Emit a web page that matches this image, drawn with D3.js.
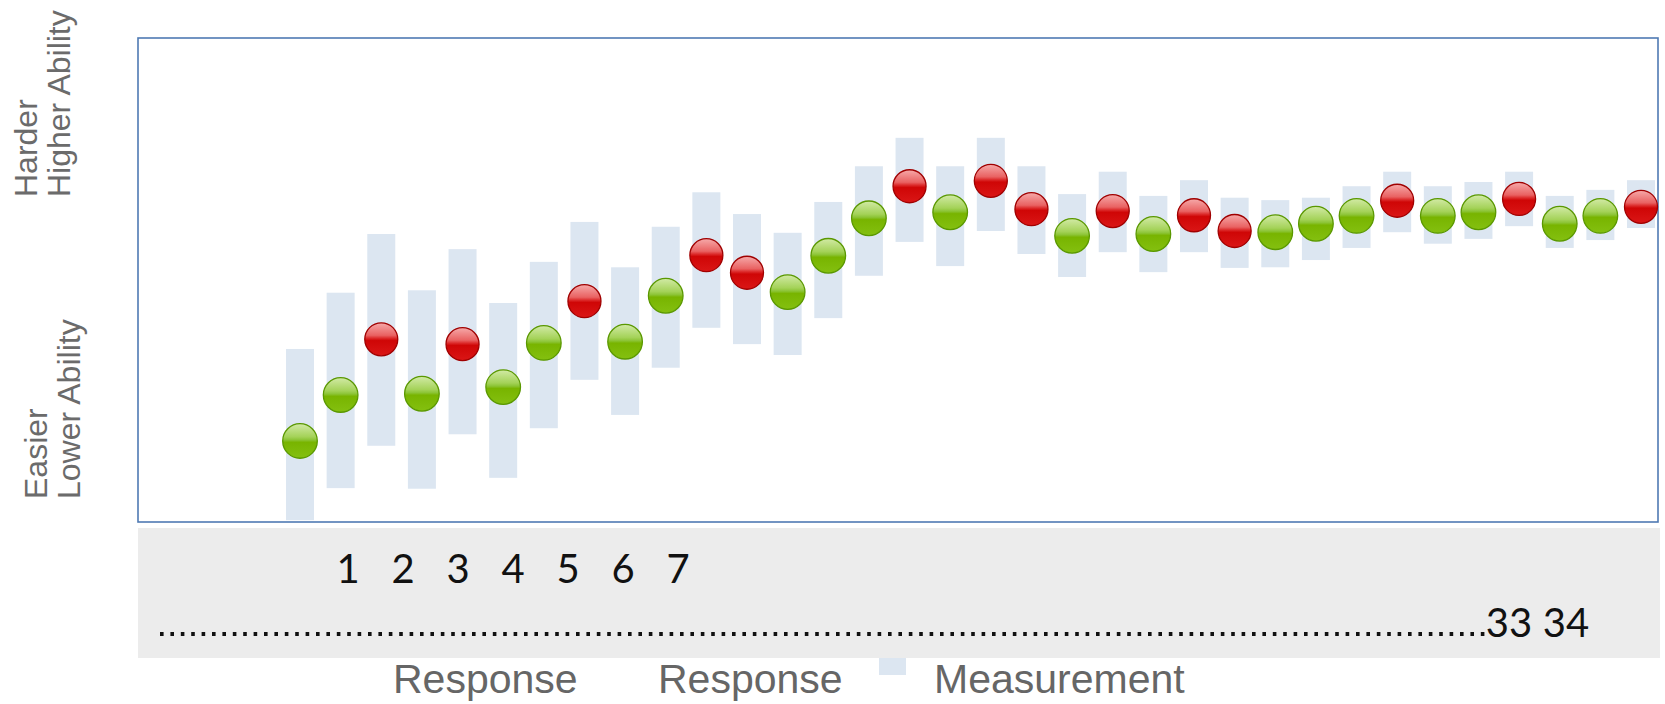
<!DOCTYPE html>
<html>
<head>
<meta charset="utf-8">
<script src="https://cdn.jsdelivr.net/npm/d3@7"></script>
<style>
  body { margin: 0; background: #fff; }
  svg { display: block; }
</style>
</head>
<body>
<div id="chart"></div>
<script>
// items along the test, in order of administration
var items = [1, 2, 3, 4, 5, 6, 7, 8, 9, 10, 11, 12, 13, 14, 15, 16, 17,
             18, 19, 20, 21, 22, 23, 24, 25, 26, 27, 28, 29, 30, 31, 32, 33, 34];
// 1 = right answer (green), 0 = wrong answer (red)
var response = [1, 1, 0, 1, 0, 1, 1, 0, 1, 1, 0, 0, 1, 1, 1, 0, 1,
                0, 0, 1, 0, 1, 0, 0, 1, 1, 1, 0, 1, 1, 0, 1, 1, 0];
// ability estimate after each item (logits)
var measure = [-2.66, -1.90, -0.98, -1.88, -1.06, -1.77, -1.04, -0.35, -1.02, -0.26, 0.41, 0.12,
               -0.20, 0.40, 1.02, 1.55, 1.12, 1.64, 1.17, 0.73, 1.14, 0.76, 1.07, 0.81,
               0.79, 0.93, 1.06, 1.31, 1.06, 1.12, 1.34, 0.93, 1.06, 1.21];
// measurement error band
var upper = [-1.14, -0.21, 0.76, -0.17, 0.51, -0.38, 0.30, 0.96, 0.21, 0.88, 1.45, 1.09,
             0.78, 1.29, 1.88, 2.35, 1.88, 2.35, 1.88, 1.42, 1.79, 1.39, 1.65, 1.36,
             1.32, 1.36, 1.55, 1.79, 1.55, 1.62, 1.79, 1.39, 1.49, 1.65];
var lower = [-3.97, -3.44, -2.74, -3.45, -2.55, -3.27, -2.45, -1.65, -2.23, -1.45, -0.79, -1.06,
             -1.24, -0.63, 0.07, 0.63, 0.23, 0.81, 0.43, 0.05, 0.46, 0.13, 0.46, 0.20,
             0.21, 0.33, 0.53, 0.79, 0.60, 0.68, 0.89, 0.53, 0.66, 0.86];

var firstLabels = ["1", "2", "3", "4", "5", "6", "7"];
var lastLabels = ["33", "34"];
var legendLabels = ["Response", "Response", "Measurement"];

var svgWidth = 1665, svgHeight = 704;

var svg = d3.select("#chart").append("svg")
    .attr("width", svgWidth)
    .attr("height", svgHeight);

var plot = { left: 138, top: 38, right: 1658, bottom: 522 };

var xScale = d3.scalePoint()
    .domain(items)
    .range([300, 1641]);

var yScale = d3.scaleLinear()
    .domain([-4, 4])
    .range([plot.bottom, plot.top]);

// glossy ball gradients
var defs = svg.append("defs");
function ballGradient(id, stops) {
  var g = defs.append("linearGradient")
    .attr("id", id)
    .attr("x1", 0).attr("y1", 0).attr("x2", 0).attr("y2", 1);
  stops.forEach(function(s) {
    g.append("stop").attr("offset", s[0]).attr("stop-color", s[1]);
  });
}
ballGradient("gGreen", [["0%", "#d2eaa6"], ["38%", "#a4d258"], ["47%", "#8cc436"], ["54%", "#78b400"], ["100%", "#84c010"]]);
ballGradient("gRed", [["0%", "#f6aaaa"], ["38%", "#e96262"], ["47%", "#dc2a2a"], ["54%", "#cf0606"], ["100%", "#da1616"]]);

var data = items.map(function(d, i) {
  return { item: d, resp: response[i], m: measure[i], hi: upper[i], lo: lower[i] };
});

// bottom grey strip
svg.append("rect")
    .attr("x", plot.left)
    .attr("y", 528)
    .attr("width", plot.right - plot.left + 2)
    .attr("height", 130)
    .style("fill", "#ececec");

// error bands
var barWidth = 28;
svg.append("g").selectAll("rect")
    .data(data)
    .enter()
    .append("rect")
    .attr("x", d => xScale(d.item) - barWidth / 2)
    .attr("y", d => yScale(d.hi))
    .attr("width", barWidth)
    .attr("height", d => yScale(d.lo) - yScale(d.hi))
    .style("fill", "#dce6f1");

// frame
svg.append("rect")
    .attr("x", plot.left)
    .attr("y", plot.top)
    .attr("width", plot.right - plot.left)
    .attr("height", plot.bottom - plot.top)
    .style("fill", "none")
    .style("stroke", "#4f7ab3")
    .style("stroke-width", 1.6);

// balls
svg.append("g").selectAll("circle")
    .data(data)
    .enter()
    .append("circle")
    .attr("cx", d => xScale(d.item))
    .attr("cy", d => yScale(d.m))
    .attr("r", d => d.resp ? 17.3 : 16.5)
    .style("fill", d => d.resp ? "url(#gGreen)" : "url(#gRed)")
    .style("stroke", d => d.resp ? "#5a9800" : "#a00000")
    .style("stroke-width", 1.3);

// y labels
var yLabels = [
  { text: "Harder", x: 37, y: 197 },
  { text: "Higher Ability", x: 70, y: 197 },
  { text: "Easier", x: 47, y: 499 },
  { text: "Lower Ability", x: 80, y: 499 }
];
svg.append("g").selectAll("text")
    .data(yLabels)
    .enter()
    .append("text")
    .attr("transform", d => `translate(${d.x}, ${d.y}) rotate(-90)`)
    .style("font-family", "'Liberation Sans', Arial, sans-serif")
    .style("font-size", "32px")
    .style("fill", "#6b6b6b")
    .text(d => d.text);

// numbering in the strip
var numScale = d3.scalePoint()
    .domain(firstLabels)
    .range([348, 678]);
svg.append("g").selectAll("text")
    .data(firstLabels)
    .enter()
    .append("text")
    .attr("x", d => numScale(d))
    .attr("y", 583)
    .attr("text-anchor", "middle")
    .style("font-family", "Lato, 'Open Sans', sans-serif")
    .style("font-size", "40px")
    .style("fill", "#111")
    .text(d => d);

svg.append("line")
    .attr("x1", 160)
    .attr("x2", 1486)
    .attr("y1", 634)
    .attr("y2", 634)
    .style("stroke", "#111")
    .style("stroke-width", 3.8)
    .style("stroke-dasharray", "3.6 6.8");

var endScale = d3.scalePoint()
    .domain(lastLabels)
    .range([1509, 1566]);
svg.append("g").selectAll("text")
    .data(lastLabels)
    .enter()
    .append("text")
    .attr("x", d => endScale(d))
    .attr("y", 637)
    .attr("text-anchor", "middle")
    .style("font-family", "Lato, 'Open Sans', sans-serif")
    .style("font-size", "40px")
    .style("fill", "#111")
    .text(d => d);

// legend
var legendX = [393, 658, 934];
var legend = svg.append("g");
legend.selectAll("text")
    .data(legendLabels)
    .enter()
    .append("text")
    .attr("x", (d, i) => legendX[i])
    .attr("y", 693)
    .style("font-family", "'Liberation Sans', Arial, sans-serif")
    .style("font-size", "41px")
    .style("fill", "#666")
    .text(d => d);
legend.append("rect")
    .attr("x", 879)
    .attr("y", 658)
    .attr("width", 27)
    .attr("height", 17)
    .style("fill", "#dce6f1");
</script>
</body>
</html>
